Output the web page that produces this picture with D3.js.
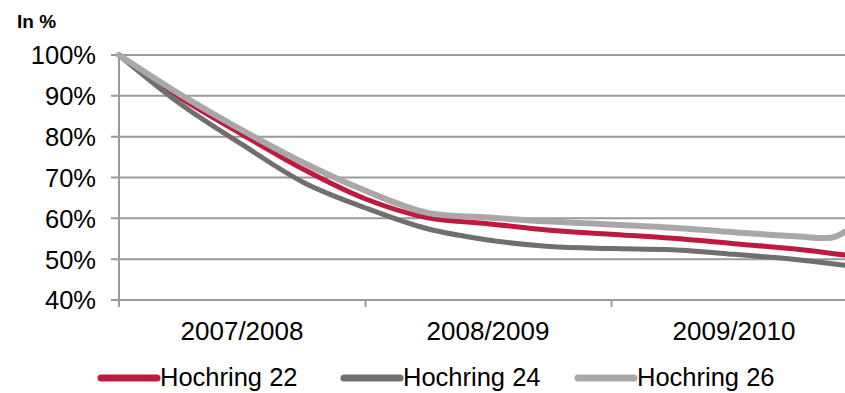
<!DOCTYPE html>
<html>
<head>
<meta charset="utf-8">
<script src="https://cdn.jsdelivr.net/npm/d3@7"></script>
<style>
  html, body { margin: 0; padding: 0; background: #fff; }
  svg { display: block; font-family: "Liberation Sans", Arial, sans-serif; }
</style>
</head>
<body>
<svg id="chart" width="845" height="393"></svg>
<script>
// ---- data ----
const categories = ["2007/2008", "2008/2009", "2009/2010"];
const yTicks = [40, 50, 60, 70, 80, 90, 100];
// positions along the x axis in school-year units (0 = start of 2007/2008)
const periods = [0, 0.25, 0.5, 0.75, 1, 1.25, 1.5, 1.75, 2, 2.25, 2.5, 2.75, 2.9, 2.95];
const hochring22 = [100, 89.5, 80.6, 72.0, 64.8, 60.2, 58.7, 57.1, 56.1, 55.1, 53.8, 52.5, 51.4, 51.0];
const hochring24 = [100, 88.0, 78.1, 68.8, 62.6, 57.5, 54.7, 53.1, 52.6, 52.3, 51.2, 49.9, 48.9, 48.5];
const hochring26 = [100, 90.3, 81.6, 73.6, 66.8, 61.4, 60.2, 59.2, 58.5, 57.7, 56.6, 55.6, 55.3, 56.7];
const seriesNames = ["Hochring 22", "Hochring 24", "Hochring 26"];
const seriesValues = [hochring22, hochring24, hochring26];
const seriesColors = ["#BE1A40", "#6F6F70", "#ABA7A8"];

const svg = d3.select("#chart");
const x = d3.scaleLinear().domain([0, 3]).range([119, 857]);
const y = d3.scaleLinear().domain([40, 100]).range([300, 55]);
const gridColor = "#9A9A9A";

// title
svg.append("text").attr("x", 17).attr("y", 28)
  .attr("font-size", 19).attr("font-weight", "bold").attr("fill", "#000").text("In %");

// gridlines
svg.append("g").selectAll("line").data(yTicks).join("line")
  .attr("x1", 111).attr("x2", 845)
  .attr("y1", d => y(d)).attr("y2", d => y(d))
  .attr("stroke", gridColor).attr("stroke-width", 2);

// y axis
const yAxis = d3.axisLeft(y).tickValues(yTicks).tickSize(0).tickPadding(0)
  .tickFormat(d => d + "%");
const gy = svg.append("g").attr("transform", "translate(96,0)").call(yAxis);
gy.select(".domain").remove();
gy.selectAll("text").attr("font-size", 25.5).attr("fill", "#000")
  .attr("font-family", "Liberation Sans, Arial, sans-serif").attr("dy", "0.35em");

// vertical axis line
svg.append("line").attr("x1", 119).attr("x2", 119).attr("y1", y(100)).attr("y2", 307)
  .attr("stroke", gridColor).attr("stroke-width", 2);

// x axis ticks (category boundaries)
const xAxis = d3.axisBottom(x).tickValues([1, 2, 3]).tickSize(7).tickFormat("");
const gx = svg.append("g").attr("transform", "translate(0,300)").call(xAxis);
gx.select(".domain").remove();
gx.selectAll("line").attr("stroke", gridColor).attr("stroke-width", 2);

// category labels
svg.append("g").selectAll("text").data(categories).join("text")
  .attr("x", (d, i) => x(i + 0.5)).attr("y", 340)
  .attr("text-anchor", "middle").attr("font-size", 26).attr("fill", "#000")
  .text(d => d);

// lines
const line = d3.line()
  .x((d, i) => x(periods[i]))
  .y(d => y(d))
  .curve(d3.curveCatmullRom.alpha(0.5));

svg.append("g").selectAll("path").data(seriesValues).join("path")
  .attr("d", d => line(d))
  .attr("fill", "none")
  .attr("stroke", (d, i) => seriesColors[i])
  .attr("stroke-width", (d, i) => i === 2 ? 6 : 5)
  .attr("stroke-linejoin", "round")
  .attr("stroke-linecap", "round");

// legend
const legendX = [101, 344, 578];
const lg = svg.append("g").selectAll("g").data(seriesNames).join("g")
  .attr("transform", (d, i) => `translate(${legendX[i]},378)`);
lg.append("line").attr("x1", 0).attr("x2", 56).attr("y1", 0).attr("y2", 0)
  .attr("stroke", (d, i) => seriesColors[i]).attr("stroke-width", 7)
  .attr("stroke-linecap", "round");
lg.append("text").attr("x", 59).attr("y", 8).attr("font-size", 25.5).attr("fill", "#000")
  .text(d => d);
</script>
</body>
</html>
